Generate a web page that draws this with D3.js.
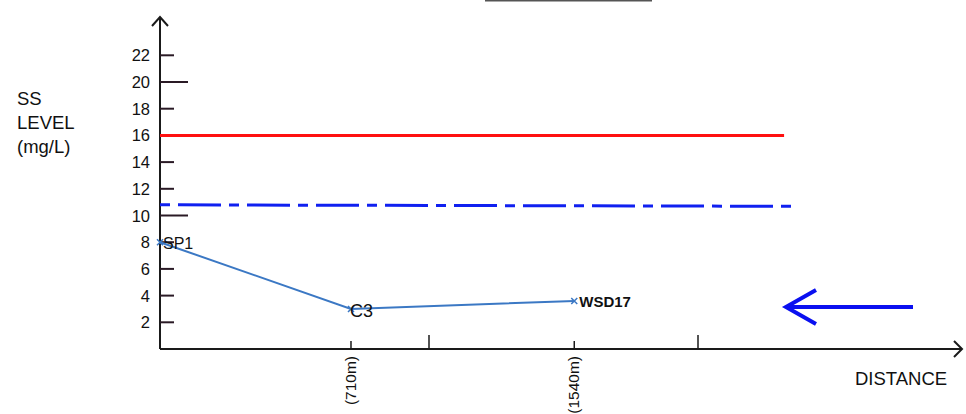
<!DOCTYPE html>
<html>
<head>
<meta charset="utf-8">
<script src="https://cdn.jsdelivr.net/npm/d3@7"></script>
<style>
  body { margin: 0; background: #fff; }
  text { font-family: "Liberation Sans", Arial, sans-serif; fill: #111; }
</style>
</head>
<body>
<div id="chart"></div>
<script>
// stations along the stream
const stations = ["SP1", "C3", "WSD17"];
const distances = [0, 710, 1540];
const ssLevels = [8.0, 3.0, 3.6];
const xTickLabels = ["", "(710m)", "(1540m)"];
const minorXTicks = [1000, 2000];
const yTicks = [2, 4, 6, 8, 10, 12, 14, 16, 18, 20, 22];
const longYTicks = [10, 20];
// guideline levels
const redLevel = 16, redEnd = 2320;
const blueLevel = 10.8, blueEnd = 2360;

const width = 966, height = 414;
const svg = d3.select("#chart").append("svg")
  .attr("width", width)
  .attr("height", height);

const x = d3.scaleLinear().domain([0, 3000]).range([160, 967]);
const y = d3.scaleLinear().domain([0, 25]).range([349, 15.25]);

// cropped title underline at the very top
svg.append("line")
  .attr("x1", 485).attr("x2", 652).attr("y1", 0.5).attr("y2", 0.5)
  .attr("stroke", "#555").attr("stroke-width", 2);

// y axis line + arrow
svg.append("line")
  .attr("x1", x(0)).attr("x2", x(0)).attr("y1", y(0)).attr("y2", 17)
  .attr("stroke", "#1a1a1a").attr("stroke-width", 2);
svg.append("path")
  .attr("d", `M${x(0) - 8},26 L${x(0)},17 L${x(0) + 8},26`)
  .attr("fill", "none").attr("stroke", "#1a1a1a").attr("stroke-width", 2);

// x axis line + arrow
svg.append("line")
  .attr("x1", x(0)).attr("x2", 962).attr("y1", y(0)).attr("y2", y(0))
  .attr("stroke", "#1a1a1a").attr("stroke-width", 2);
svg.append("path")
  .attr("d", `M954,${y(0) - 8} L962,${y(0)} L954,${y(0) + 8}`)
  .attr("fill", "none").attr("stroke", "#1a1a1a").attr("stroke-width", 2);

// y ticks
svg.selectAll(".ytick").data(yTicks).enter().append("line")
  .attr("class", "ytick")
  .attr("x1", x(0)).attr("x2", d => longYTicks.includes(d) ? x(0) + 28 : x(0) + 14)
  .attr("y1", d => y(d)).attr("y2", d => y(d))
  .attr("stroke", "#2a1a25").attr("stroke-width", 2);
svg.selectAll(".ylab").data(yTicks).enter().append("text")
  .attr("class", "ylab")
  .attr("x", 150).attr("y", d => y(d) + 6)
  .attr("text-anchor", "end")
  .style("font-size", "16.5px")
  .text(d => d);

// axis title
svg.selectAll(".ytitle").data(["SS", "LEVEL", "(mg/L)"]).enter().append("text")
  .attr("x", 17).attr("y", (d, i) => 105 + i * 24)
  .style("font-size", "18.5px")
  .text(d => d);

svg.append("text")
  .attr("x", 855).attr("y", 385)
  .style("font-size", "18.5px")
  .text("DISTANCE");

// x ticks
svg.selectAll(".xtick").data(distances.slice(1)).enter().append("line")
  .attr("x1", d => x(d)).attr("x2", d => x(d))
  .attr("y1", y(0)).attr("y2", y(0) - 8)
  .attr("stroke", "#1a1a1a").attr("stroke-width", 1.5);
svg.selectAll(".xminor").data(minorXTicks).enter().append("line")
  .attr("x1", d => x(d)).attr("x2", d => x(d))
  .attr("y1", y(0)).attr("y2", y(0) - 14)
  .attr("stroke", "#1a1a1a").attr("stroke-width", 1.5);
svg.selectAll(".xlab").data(distances).enter().append("text")
  .attr("transform", d => `translate(${x(d) + 5},${y(0) + 7}) rotate(-90)`)
  .attr("text-anchor", "end")
  .style("font-size", "15.5px")
  .text((d, i) => xTickLabels[i]);

// guideline levels
svg.append("line")
  .attr("x1", x(0)).attr("x2", x(redEnd)).attr("y1", y(redLevel)).attr("y2", y(redLevel))
  .attr("stroke", "#ff1010").attr("stroke-width", 3);
svg.append("line")
  .attr("x1", x(0)).attr("x2", x(blueEnd)).attr("y1", y(blueLevel)).attr("y2", y(blueLevel) + 1.5)
  .attr("stroke", "#1020f0").attr("stroke-width", 3)
  .attr("stroke-dasharray", "10 8 43 8");

// the series
const pts = distances.map((d, i) => ({ d: d, v: ssLevels[i], name: stations[i] }));
svg.append("path")
  .datum(pts)
  .attr("d", d3.line().x(p => x(p.d)).y(p => y(p.v)))
  .attr("fill", "none").attr("stroke", "#3b78c4").attr("stroke-width", 2);
svg.selectAll(".mk").data(pts).enter().append("path")
  .attr("d", p => `M${x(p.d) - 3},${y(p.v) - 3} L${x(p.d) + 3},${y(p.v) + 3} M${x(p.d) - 3},${y(p.v) + 3} L${x(p.d) + 3},${y(p.v) - 3}`)
  .attr("stroke", "#3b78c4").attr("stroke-width", 1.5);

const labelDx = [3, -1, 5], labelDy = [7, 8, 6];
const labelSize = [16, 18, 15];
svg.selectAll(".plab").data(pts).enter().append("text")
  .attr("x", (p, i) => x(p.d) + labelDx[i])
  .attr("y", (p, i) => y(p.v) + labelDy[i])
  .style("font-size", (p, i) => labelSize[i] + "px")
  .style("font-weight", (p, i) => i === 2 ? "bold" : "normal")
  .text(p => p.name);

// blue arrow pointing left
svg.append("path")
  .attr("d", "M913,307 L786,307 M816,290 L786,307 L816,324")
  .attr("fill", "none").attr("stroke", "#0a10f0").attr("stroke-width", 4);
</script>
</body>
</html>
